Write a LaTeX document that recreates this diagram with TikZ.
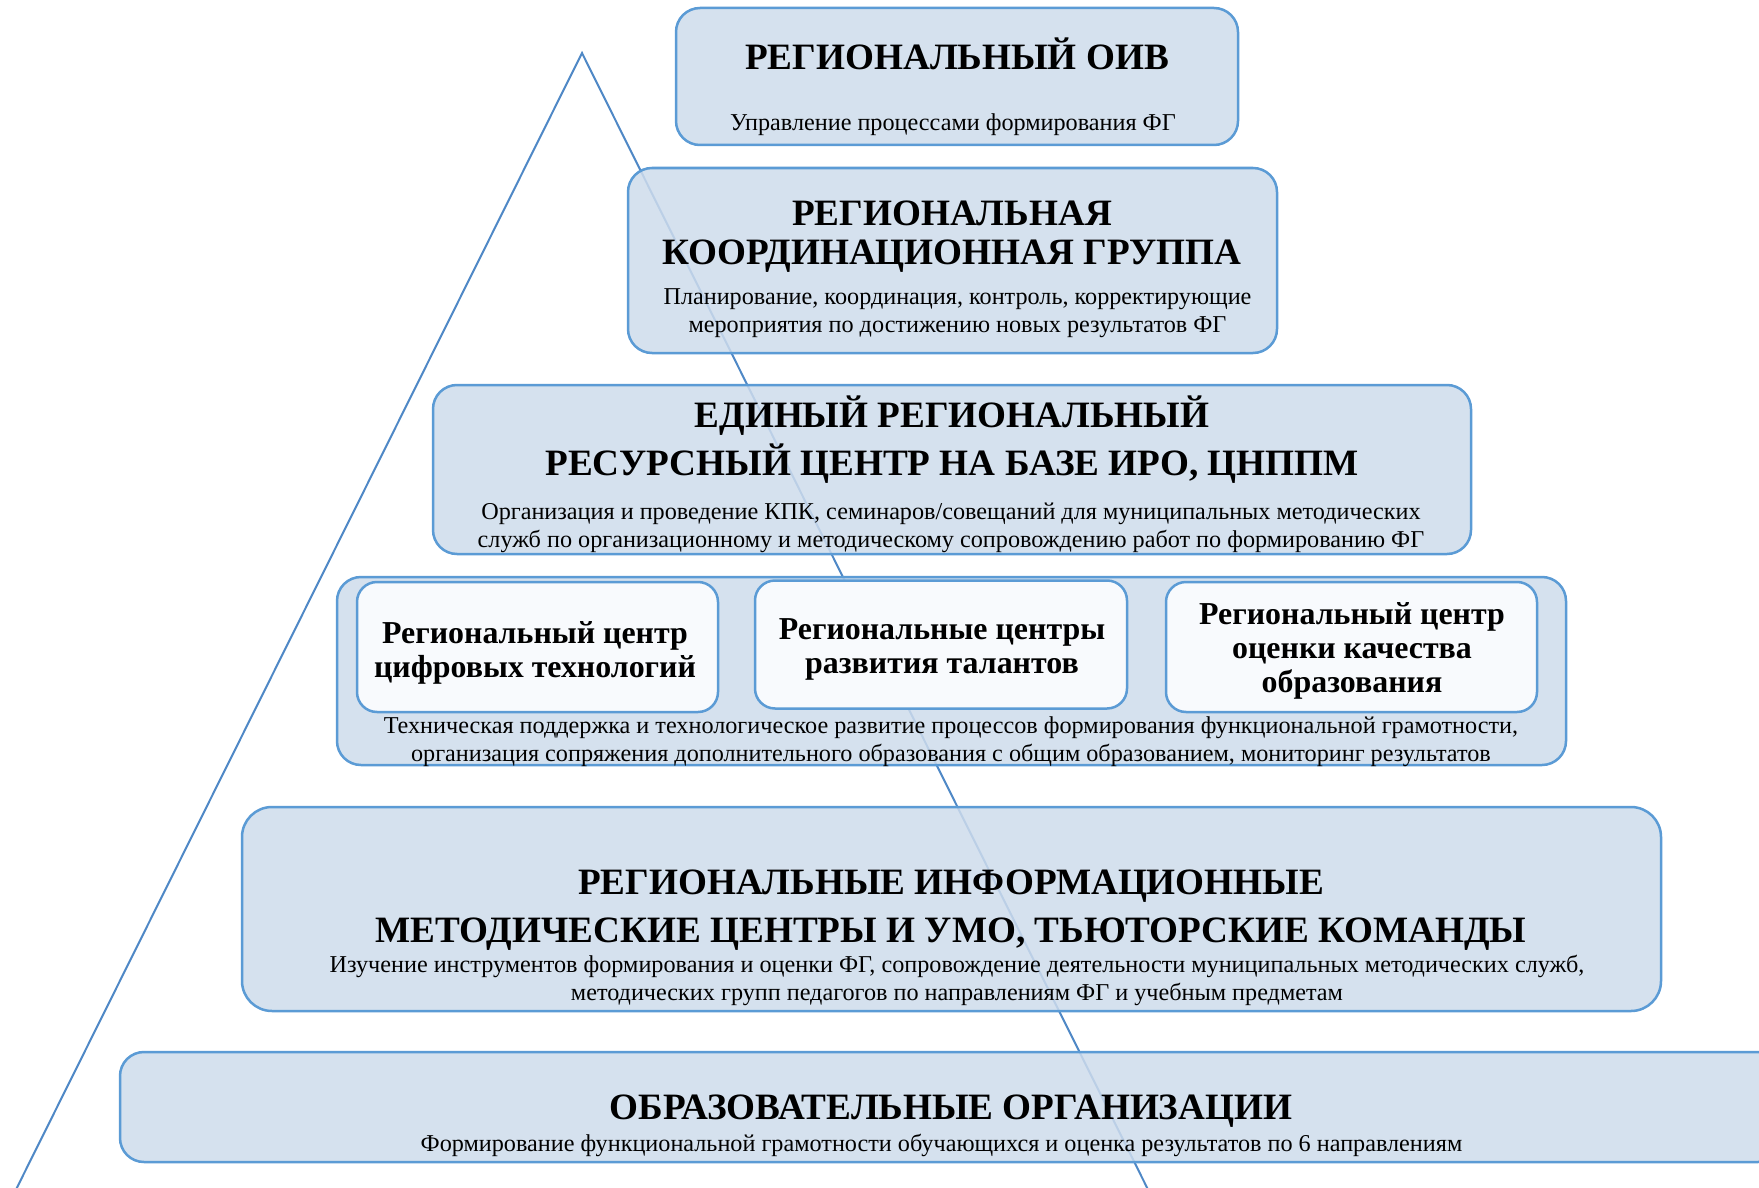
\documentclass[tikz,border=0pt]{standalone}
\usepackage{fontspec}
\setmainfont{Liberation Serif}
\usetikzlibrary{positioning, calc}
\definecolor{tierfill}{HTML}{CEDCEC}
\definecolor{tierline}{HTML}{5B9BD5}
\definecolor{cellfill}{HTML}{F8FAFD}
\definecolor{edgeblue}{HTML}{4F88C6}
\tikzset{
    tier/.style={draw=tierline, line width=2.5pt, fill=tierfill, fill opacity=0.85, rounded corners=24pt, inner sep=0pt},
    cell/.style={draw=tierline, line width=2.5pt, fill=cellfill, rounded corners=20pt, inner sep=0pt},
    head/.style={font=\bfseries\fontsize{37.2}{48}\selectfont, align=center},
    note/.style={font=\fontsize{24.2}{28}\selectfont, align=center},
    cellhead/.style={font=\bfseries\fontsize{31.9}{34}\selectfont, align=center},
    edge/.style={draw=edgeblue, line width=2pt}
}

\begin{document}
\begin{tikzpicture}[x=1pt, y=-1pt]
    \useasboundingbox (0,0) rectangle (1759,1188);
    \fill [white] (0,0) rectangle (1759,1188);
    \clip (0,0) rectangle (1759,1188);
    % Pyramid outline
    \coordinate (apex) at (582,53);
    \coordinate (baseL) at (-39,1300);
    \coordinate (baseR) at (1203,1300);
    \draw [edge] (baseL) -- (apex) -- (baseR);
    % Level 1
    \node [tier, minimum width=562pt, minimum height=137pt] (oiv) at (957,76.5) {};
    \node [head] (oivT) at (957,54) {РЕГИОНАЛЬНЫЙ ОИВ};
    \node [note] (oivD) at (953,124.4) {Управление процессами формирования ФГ};
    % Level 2
    \node [tier, minimum width=649pt, minimum height=185pt] (group) at (952.5,260.5) {};
    \node [head, font=\bfseries\fontsize{37.2}{39}\selectfont] (groupT) at (952,237) {РЕГИОНАЛЬНАЯ\\КООРДИНАЦИОННАЯ ГРУППА};
    \node [note] (groupD) at (957.5,313.4) {Планирование, координация, контроль, корректирующие\\мероприятия по достижению новых результатов ФГ};
    % Level 3
    \node [tier, minimum width=1038pt, minimum height=169pt] (iro) at (952,469.5) {};
    \node [head] (iroT) at (952,440) {ЕДИНЫЙ РЕГИОНАЛЬНЫЙ\\РЕСУРСНЫЙ ЦЕНТР НА БАЗЕ ИРО, ЦНППМ};
    \node [note] (iroD) at (951,528) {Организация и проведение КПК, семинаров/совещаний для муниципальных методических\\служб по организационному и методическому сопровождению работ по формированию ФГ};
    % Level 4 with three centres
    \node [tier, minimum width=1229pt, minimum height=188pt] (centres) at (951.5,671) {};
    \node [cell, minimum width=361pt, minimum height=130pt] (digit) at (537.5,647) {};
    \node [cell, minimum width=372pt, minimum height=128pt] (talent) at (941,644.5) {};
    \node [cell, minimum width=371pt, minimum height=130pt] (quality) at (1351.5,647) {};
    \node [cellhead] (digitT) at (535,652.7) {Региональный центр\\цифровых технологий};
    \node [cellhead] (talentT) at (942,649.5) {Региональные центры\\развития талантов};
    \node [cellhead] (qualityT) at (1352,651) {Региональный центр\\оценки качества\\образования};
    \node [note] (centresD) at (951,741.3) {Техническая поддержка и технологическое развитие процессов формирования функциональной грамотности,\\организация сопряжения дополнительного образования с общим образованием, мониторинг результатов};
    % Level 5
    \node [tier, minimum width=1419pt, minimum height=204pt, rounded corners=30pt] (method) at (951.5,909) {};
    \node [head] (methodT) at (951,910.5) {РЕГИОНАЛЬНЫЕ ИНФОРМАЦИОННЫЕ\\МЕТОДИЧЕСКИЕ ЦЕНТРЫ И УМО, ТЬЮТОРСКИЕ КОМАНДЫ};
    \node [note] (methodD) at (957,980) {Изучение инструментов формирования и оценки ФГ, сопровождение деятельности муниципальных методических служб,\\методических групп педагогов по направлениям ФГ и учебным предметам};
    % Level 6
    \node [tier, minimum width=1662pt, minimum height=110pt] (school) at (951,1107) {};
    \node [head] (schoolT) at (951,1111.6) {ОБРАЗОВАТЕЛЬНЫЕ ОРГАНИЗАЦИИ};
    \node [note] (schoolD) at (941.5,1145) {Формирование функциональной грамотности обучающихся и оценка результатов по 6 направлениям};
\end{tikzpicture}
\end{document}
